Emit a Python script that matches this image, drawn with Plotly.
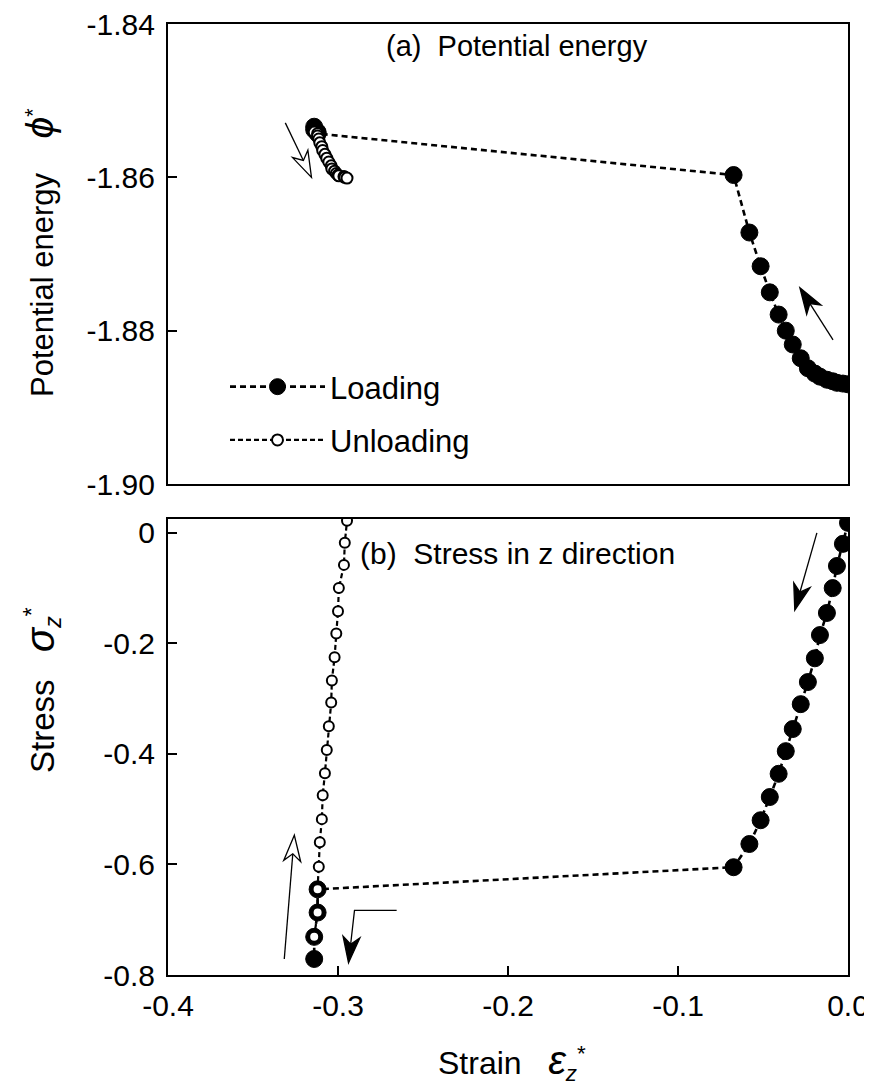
import plotly.graph_objects as go
from plotly.subplots import make_subplots

# ---------------- data ----------------
load_strain = [0.0, -0.003, -0.0065, -0.009, -0.0124, -0.0165, -0.0195, -0.0236, -0.0278,
               -0.0325, -0.0366, -0.0408, -0.046, -0.0514, -0.058, -0.0673,
               -0.312, -0.312, -0.314, -0.314]
load_energy = [-1.8870, -1.8869, -1.8868, -1.8866, -1.8864, -1.8860, -1.8856, -1.8849, -1.8836,
               -1.8818, -1.8800, -1.8779, -1.8750, -1.8716, -1.8672, -1.8597,
               -1.8543, -1.8541, -1.8538, -1.8534]
load_stress = [0.018, -0.020, -0.060, -0.100, -0.145, -0.185, -0.227, -0.270, -0.310,
               -0.355, -0.395, -0.436, -0.478, -0.520, -0.563, -0.605,
               -0.645, -0.687, -0.731, -0.771]

unload_strain = [-0.314, -0.312, -0.312, -0.3113, -0.3107, -0.3095, -0.309, -0.3077, -0.3066,
                 -0.3054, -0.304, -0.3036, -0.302, -0.301, -0.300, -0.2995, -0.2965, -0.296, -0.2947]
unload_energy = [-1.8541, -1.8543, -1.8546, -1.8550, -1.8555, -1.8560, -1.8565, -1.8570, -1.8575,
                 -1.8580, -1.8585, -1.8589, -1.8592, -1.8595, -1.8597, -1.8598, -1.8599, -1.8600, -1.8601]
unload_stress = [-0.731, -0.687, -0.645, -0.604, -0.560, -0.518, -0.475, -0.435, -0.393,
                 -0.350, -0.307, -0.267, -0.225, -0.182, -0.142, -0.100, -0.058, -0.018, 0.022]

x_ticks = [-0.4, -0.3, -0.2, -0.1, 0.0]
x_ticklabels = ["-0.4", "-0.3", "-0.2", "-0.1", "0.0"]
e_ticks = [-1.90, -1.88, -1.86, -1.84]
e_ticklabels = ["-1.90", "-1.88", "-1.86", "-1.84"]
s_ticks = [-0.8, -0.6, -0.4, -0.2, 0.0]
s_ticklabels = ["-0.8", "-0.6", "-0.4", "-0.2", "0"]

# ---------------- layout constants ----------------
# the page body has an 8px margin, so figure coords = page coords - 8
OFF = 8
W, H = 864, 1076
PL, PR = 168, 848            # plot area left/right (page px)
PT, PB = 24, 975             # plot area top/bottom (page px)
ML, MR = PL - OFF, W - (PR - OFF)
MT, MB = PT - OFF, H - (PB - OFF)
plot_w = PR - PL
plot_h = PB - PT
X_RANGE = [-0.4, 0.0]
E_RANGE = [-1.90, -1.84]
S_RANGE = [-0.8, 0.025]
top_dom = [(PB - 484) / plot_h, 1.0]
bot_dom = [0.0, (PB - 519) / plot_h]


def xp(X):
    return (X - PL) / plot_w


def yp(Y):
    return (PB - Y) / plot_h


FONT = "Liberation Sans, Arial, Helvetica, sans-serif"
FS = 30

fig = make_subplots(rows=2, cols=1, shared_xaxes=False, vertical_spacing=0.03)

line_style = dict(color="black", width=2.6, dash="6px,4px")

# top panel
fig.add_trace(go.Scatter(x=load_strain, y=load_energy, mode="lines+markers", name="Loading",
                         line=line_style,
                         marker=dict(symbol="circle", size=17, color="black",
                                     line=dict(color="black", width=1)),
                         legendgroup="a"), row=1, col=1)
fig.add_trace(go.Scatter(x=unload_strain, y=unload_energy, mode="lines+markers", name="Unloading",
                         line=dict(color="black", width=2.2, dash="5px,3px"),
                         marker=dict(symbol="circle", size=11, color="white",
                                     line=dict(color="black", width=2)),
                         legendgroup="b"), row=1, col=1)
# bottom panel
fig.add_trace(go.Scatter(x=load_strain, y=load_stress, mode="lines+markers", showlegend=False,
                         line=line_style,
                         marker=dict(symbol="circle", size=17, color="black",
                                     line=dict(color="black", width=1))), row=2, col=1)
fig.add_trace(go.Scatter(x=unload_strain, y=unload_stress, mode="lines+markers", showlegend=False,
                         line=dict(color="black", width=2.2, dash="5px,3px"),
                         marker=dict(symbol="circle", size=10, color="white",
                                     line=dict(color="black", width=2))), row=2, col=1)

axis_common = dict(showline=True, linecolor="black", linewidth=2, mirror=True,
                   showgrid=False, zeroline=False, ticks="inside", ticklen=9, tickwidth=2,
                   tickcolor="black", ticklabeloverflow="allow", automargin=False,
                   tickfont=dict(family=FONT, size=FS, color="black"))

fig.update_xaxes(**axis_common, range=X_RANGE, domain=[0, 1])
fig.update_xaxes(row=1, col=1, showticklabels=False, ticks="", tickvals=[])
fig.update_xaxes(row=2, col=1, tickvals=x_ticks, ticktext=x_ticklabels, ticklabelstandoff=3)
fig.update_yaxes(**axis_common)
fig.update_yaxes(row=1, col=1, range=E_RANGE, domain=top_dom, tickvals=e_ticks,
                 ticktext=e_ticklabels, ticklabelstandoff=5)
fig.update_yaxes(row=2, col=1, range=S_RANGE, domain=bot_dom, tickvals=s_ticks,
                 ticktext=s_ticklabels, ticklabelstandoff=5)

# axis titles as annotations
fig.add_annotation(x=xp(512), y=yp(1062), xref="paper", yref="paper",
                   text="Strain   <span style='font-size:40px'><i>ε</i></span>"
                        "<sub><i>z</i></sub><sup>*</sup>",
                   showarrow=False, xanchor="center", yanchor="middle",
                   font=dict(family=FONT, size=32, color="black"))
fig.add_annotation(x=xp(40), y=yp(253), xref="paper", yref="paper", textangle=-90,
                   text="Potential energy    <span style='font-size:39px'><i>ϕ</i></span><sup>*</sup>",
                   showarrow=False, xanchor="center", yanchor="middle",
                   font=dict(family=FONT, size=31, color="black"))
fig.add_annotation(x=xp(42), y=yp(690), xref="paper", yref="paper", textangle=-90,
                   text="Stress   <span style='font-size:40px'><i>σ</i></span>"
                        "<sub><i>z</i></sub><sup>*</sup>",
                   showarrow=False, xanchor="center", yanchor="middle",
                   font=dict(family=FONT, size=33, color="black"))

# ---------------- arrows (drawn as shapes) ----------------
sx = plot_w / (X_RANGE[1] - X_RANGE[0])
sy_top = (top_dom[1] - top_dom[0]) * plot_h / (E_RANGE[1] - E_RANGE[0])
sy_bot = (bot_dom[1] - bot_dom[0]) * plot_h / (S_RANGE[1] - S_RANGE[0])


def arrow(points, sy, xref, yref, filled, head_len=26, head_w=8.5):
    """points: list of (x, y) data coordinates, last one is the tip."""
    (x0, y0), (x1, y1) = points[-2], points[-1]
    dx, dy = (x1 - x0) * sx, (y1 - y0) * sy
    n = (dx ** 2 + dy ** 2) ** 0.5
    ux, uy = dx / n, dy / n
    px, py = -uy, ux

    def off(a, b):
        return (x1 + a / sx, y1 + b / sy)

    left = off(-head_len * ux + head_w * px, -head_len * uy + head_w * py)
    right = off(-head_len * ux - head_w * px, -head_len * uy - head_w * py)
    notch = off(-0.72 * head_len * ux, -0.72 * head_len * uy)
    shaft = list(points[:-1]) + [notch]
    path = "M " + " L ".join(f"{x},{y}" for x, y in shaft)
    fig.add_shape(type="path", path=path, xref=xref, yref=yref,
                  line=dict(color="black", width=1.3))
    head = f"M {x1},{y1} L {left[0]},{left[1]} L {notch[0]},{notch[1]} L {right[0]},{right[1]} Z"
    fig.add_shape(type="path", path=head, xref=xref, yref=yref,
                  fillcolor="black" if filled else "white",
                  line=dict(color="black", width=1.3))


arrow([(-0.331, -1.8529), (-0.3156, -1.8600)], sy_top, "x", "y", filled=False)
arrow([(-0.0088, -1.8812), (-0.0283, -1.8744)], sy_top, "x", "y", filled=True)
arrow([(-0.0183, 0.0), (-0.0313, -0.140)], sy_bot, "x2", "y2", filled=True)
arrow([(-0.3316, -0.771), (-0.3257, -0.547)], sy_bot, "x2", "y2", filled=False)
arrow([(-0.2655, -0.683), (-0.2903, -0.683), (-0.2938, -0.778)], sy_bot, "x2", "y2", filled=True)

# ---------------- panel labels ----------------
fig.add_annotation(x=-0.273, y=-1.8429, xref="x", yref="y", text="(a)  Potential energy",
                   showarrow=False, xanchor="left", yanchor="middle",
                   font=dict(family=FONT, size=29, color="black"))
fig.add_annotation(x=-0.2885, y=-0.037, xref="x2", yref="y2", text="(b)  Stress in z direction",
                   showarrow=False, xanchor="left", yanchor="middle",
                   font=dict(family=FONT, size=30, color="black"))

fig.update_layout(
    width=W, height=H,
    margin=dict(l=ML, r=MR, t=MT, b=MB, autoexpand=False),
    paper_bgcolor="white", plot_bgcolor="white",
    font=dict(family=FONT, size=FS, color="black"),
    legend=dict(x=xp(225), y=yp(360), xanchor="left", yanchor="top",
                bgcolor="rgba(0,0,0,0)", font=dict(family=FONT, size=31, color="black"),
                itemwidth=95, tracegroupgap=10),
    showlegend=True,
)

fig.write_html("out.html")
